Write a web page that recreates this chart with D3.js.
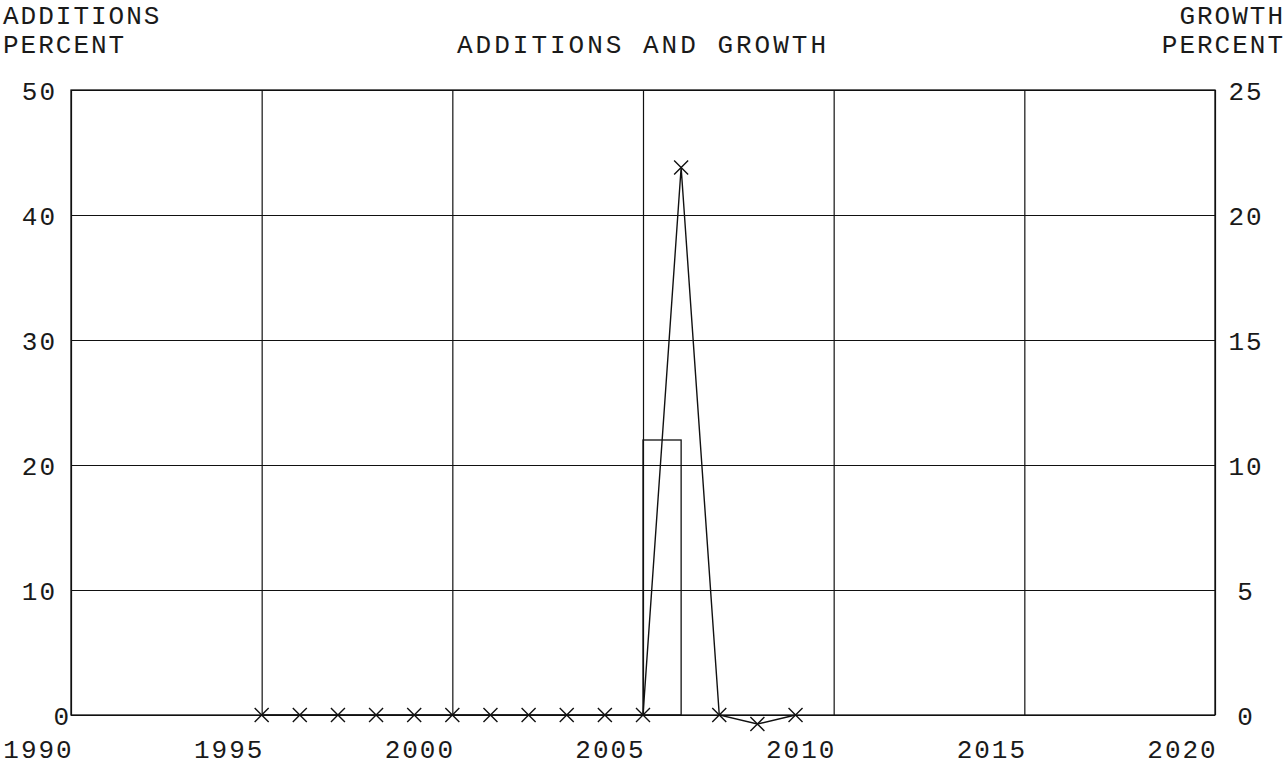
<!DOCTYPE html>
<html><head><meta charset="utf-8">
<script src="https://cdn.jsdelivr.net/npm/d3@7/dist/d3.min.js"></script>
<style>
body{margin:0;background:#fff}
text{font-family:"Liberation Mono","DejaVu Sans Mono",monospace;font-size:26px;letter-spacing:2px;fill:#1a1a1a}
</style></head><body>
<svg id="chart" width="1287" height="784"></svg>
<script>
// ---- data ----
const years      = [1995,1996,1997,1998,1999,2000,2001,2002,2003,2004,2005,2006,2007,2008,2009];
const additions  = [0,0,0,0,0,0,0,0,0,0,22,0,0,0,0];           // left axis, percent
const growth     = [0,0,0,0,0,0,0,0,0,0,0,21.9,0,-0.36,0];      // right axis, percent
const xTicks     = [1990,1995,2000,2005,2010,2015,2020];
const leftTicks  = [0,10,20,30,40,50];
const rightTicks = [0,5,10,15,20,25];
const title      = "ADDITIONS AND GROWTH";
const leftLabel  = ["ADDITIONS","PERCENT"];
const rightLabel = ["GROWTH","PERCENT"];

// ---- layout ----
const svg = d3.select("#chart");
const L = 71, R = 1215, T = 90, B = 715;
const x = d3.scaleLinear().domain([1990,2020]).range([L,R]);
const yL = d3.scaleLinear().domain([0,50]).range([B,T]);
const yR = d3.scaleLinear().domain([0,25]).range([B,T]);
const ink = "#111";

// vertical grid + x labels
const gx = svg.append("g").attr("transform",`translate(0,${B})`)
  .call(d3.axisBottom(x).tickValues(xTicks).tickFormat(d3.format("d")).tickSize(-(B-T)).tickPadding(0));
gx.select(".domain").remove();
gx.selectAll(".tick line").attr("stroke",ink).attr("stroke-width",1.2);
gx.selectAll(".tick text").attr("font-size",null).attr("font-family",null)
  .attr("text-anchor","middle").attr("dx",-33).attr("y",43).attr("dy",0);

// horizontal grid + left labels
const gl = svg.append("g").attr("transform",`translate(${L},0)`)
  .call(d3.axisLeft(yL).tickValues(leftTicks).tickFormat(d3.format("d")).tickSize(-(R-L)).tickPadding(0));
gl.select(".domain").remove();
gl.selectAll(".tick line").attr("stroke",ink).attr("stroke-width",1.2);
gl.selectAll(".tick text").attr("font-size",null).attr("font-family",null)
  .attr("text-anchor","end")
  .attr("x", d => 0 - 14*(String(d).length-1))
  .attr("dy","0.36em");

// right labels
const gr = svg.append("g").attr("transform",`translate(${R},0)`)
  .call(d3.axisRight(yR).tickValues(rightTicks).tickFormat(d3.format("d")).tickSize(0).tickPadding(0));
gr.select(".domain").remove();
gr.selectAll(".tick text").attr("font-size",null).attr("font-family",null)
  .attr("text-anchor","middle").attr("x",31).attr("dy","0.36em");

// frame
svg.append("rect").attr("x",L).attr("y",T).attr("width",R-L).attr("height",B-T)
  .attr("fill","none").attr("stroke",ink).attr("stroke-width",1.3);

// additions bars (outline only)
svg.append("g").selectAll("rect").data(years.map((yr,i)=>({yr,v:additions[i]})).filter(d=>d.v!==0))
  .join("rect")
  .attr("x",d=>x(d.yr)).attr("width",d=>x(d.yr+1)-x(d.yr))
  .attr("y",d=>yL(d.v)).attr("height",d=>yL(0)-yL(d.v))
  .attr("fill","none").attr("stroke",ink).attr("stroke-width",1.3);

// growth line
const pts = years.map((yr,i)=>({yr,v:growth[i]}));
svg.append("path").datum(pts)
  .attr("d",d3.line().x(d=>x(d.yr)).y(d=>yR(d.v)))
  .attr("fill","none").attr("stroke",ink).attr("stroke-width",1.4);
const m = 7;
svg.append("g").selectAll("path").data(pts).join("path")
  .attr("d",d=>{const cx=x(d.yr),cy=yR(d.v);
    return `M${cx-m},${cy-m}L${cx+m},${cy+m}M${cx-m},${cy+m}L${cx+m},${cy-m}`;})
  .attr("stroke",ink).attr("stroke-width",1.4).attr("fill","none");

// titles
svg.append("text").attr("x",3).attr("y",24).text(leftLabel[0]);
svg.append("text").attr("x",3).attr("y",53).text(leftLabel[1]);
svg.append("text").attr("x",1285).attr("y",24).attr("text-anchor","end").text(rightLabel[0]);
svg.append("text").attr("x",1285).attr("y",53).attr("text-anchor","end").text(rightLabel[1]);
svg.append("text").attr("x",643).attr("y",53).attr("text-anchor","middle").style("letter-spacing","3px").text(title);
</script>
</body></html>
